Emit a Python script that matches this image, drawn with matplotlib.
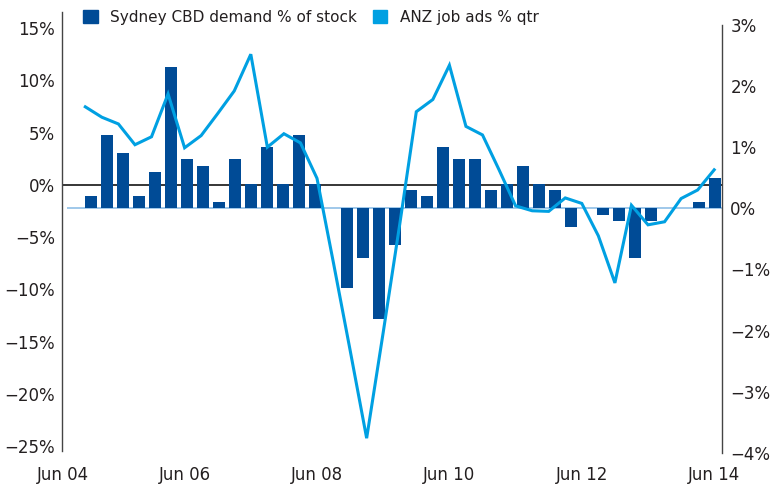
import numpy as np
import matplotlib
matplotlib.use("Agg")
import matplotlib.pyplot as plt
from matplotlib.patches import Patch

# Quarterly data, quarter number counted from Jun 04 (Sep 04 = 1 ... Jun 14 = 40)
bar_quarters = np.arange(1, 41)
cbd_demand = [
    -1.05, 4.78, 3.06, -1.05, 1.24, 11.29, 2.49, 1.82, -1.63, 2.49,
    0.10, 3.64, 0.10, 4.78, 0.10, np.nan, -9.83, -6.96, -12.79, -5.71,
    -0.48, -1.05, 3.64, 2.49, 2.49, -0.48, 0.10, 1.82, 0.10, -0.48,
    -3.99, np.nan, -2.87, -3.42, -6.96, -3.44, np.nan, np.nan, -1.63, 0.67,
]

# ANZ job ads, Dec 04 (2) ... Jun 14 (40)
line_quarters = np.arange(2, 41)
job_ads = [
    1.66, 1.49, 1.38, 1.04, 1.17, 1.87, 0.99, 1.19, 1.55, 1.92,
    2.52, 1.00, 1.22, 1.07, 0.49, -0.90, -2.32, -3.76, -2.03, -0.26,
    1.58, 1.78, 2.34, 1.34, 1.20, 0.63, 0.04, -0.04, -0.05, 0.17,
    0.08, -0.45, -1.22, 0.05, -0.27, -0.22, 0.16, 0.30, 0.63,
]

x_ticks_q = [8, 16, 24, 32, 40]
x_labels = ["Jun 04", "Jun 06", "Jun 08", "Jun 10", "Jun 12", "Jun 14"]
left_ticks = [15, 10, 5, 0, -5, -10, -15, -20, -25]
right_ticks = [3, 2, 1, 0, -1, -2, -3, -4]

DARK_BLUE = "#004b96"
LIGHT_BLUE = "#00a0e2"
TEXT = "#231f20"

plt.rcParams["font.family"] = ["DejaVu Sans"]
plt.rcParams["font.size"] = 12

fig = plt.figure(figsize=(7.7, 4.88), dpi=100)
W, H = 770, 488
rect = [62 / W, (H - 453) / H, 660 / W, 441 / H]

# bars on the left scale, drawn up/down from the right-hand zero
ax = fig.add_axes(rect)
ax.set_xlim(-0.8125, 40.4375)
ax.set_ylim(-25.646, 16.555)
base = -2.23
vals = np.array(cbd_demand, dtype=float)
ok = ~np.isnan(vals)
ax.bar(bar_quarters[ok], vals[ok] - base, bottom=base, width=0.73,
       color=DARK_BLUE, zorder=2)
ax.axhline(0, color="black", lw=1.1, zorder=1)
ax.hlines(base, -0.5, 40.4375, color="#8fbfe6", lw=1.2, zorder=1)

ax.set_yticks(left_ticks)
ax.set_yticklabels([f"{t}%".replace("-", "\u2212") for t in left_ticks])
ax.tick_params(axis="y", length=0, pad=5, colors=TEXT, labelsize=12)
ax.set_xticks([])
for s in ["top", "right", "bottom"]:
    ax.spines[s].set_visible(False)
ax.spines["left"].set_color("#444444")
ax.spines["left"].set_linewidth(1.0)
ax.spines["left"].set_bounds(-25.45, 16.555)

# job ads line on its own x and y scale
ax2 = fig.add_axes(rect)
ax2.patch.set_visible(False)
x_lo = 0.592
ax2.set_xlim(x_lo, x_lo + 660 / 16.55)
ax2.set_ylim(-4.002, 3.211)
ax2.plot(line_quarters, job_ads, color=LIGHT_BLUE, lw=2.2, zorder=3,
         solid_joinstyle="miter")
ax2.yaxis.tick_right()
ax2.set_yticks(right_ticks)
ax2.set_yticklabels([f"{t}%".replace("-", "\u2212") for t in right_ticks])
ax2.tick_params(axis="y", length=0, pad=6, colors=TEXT, labelsize=12)
ax2.set_xticks([x_lo + 0.03] + x_ticks_q)
ax2.set_xticklabels(x_labels)
ax2.tick_params(axis="x", length=0, pad=9, colors=TEXT, labelsize=12)
for s in ["top", "left", "bottom"]:
    ax2.spines[s].set_visible(False)
ax2.spines["right"].set_color("#444444")
ax2.spines["right"].set_linewidth(1.0)
ax2.spines["right"].set_bounds(-4.0, 3.0)

handles = [Patch(color=DARK_BLUE, label="Sydney CBD demand % of stock"),
           Patch(color=LIGHT_BLUE, label="ANZ job ads % qtr")]
fig.legend(handles=handles, loc="upper left", ncol=2, frameon=False,
           bbox_to_anchor=(83 / W, 1 - 10 / H), bbox_transform=fig.transFigure,
           borderpad=0, borderaxespad=0, handlelength=0.95, handleheight=0.95,
           handletextpad=0.85, columnspacing=1.0, labelcolor=TEXT, fontsize=11)

fig.savefig("out.png", dpi=100)
